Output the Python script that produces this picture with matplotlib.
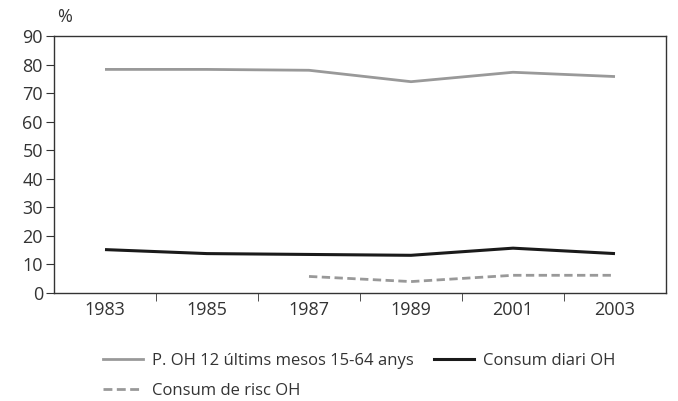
import matplotlib
matplotlib.use("Agg")
import matplotlib.pyplot as plt
import numpy as np
from matplotlib.lines import Line2D

plt.rcParams['font.family'] = ['Open Sans', 'DejaVu Sans']

years = ["1983", "1985", "1987", "1989", "2001", "2003"]
p_oh = [78.3, 78.3, 78.0, 74.0, 77.3, 75.8]
diari = [15.2, 13.8, 13.5, 13.2, 15.7, 13.8]
risc = [np.nan, np.nan, 5.8, 4.0, 6.2, 6.2]

txt = '#333333'
fs = 12
tfs = 13
fig = plt.figure(figsize=(6.78, 4.01), dpi=100)
ax = fig.add_axes([54/678, 1 - 293/401, 612/678, 257/401])
x = np.arange(len(years))
dash = (0, (3, 1.6))
ax.plot(x, p_oh, color='#999999', lw=2.0, solid_capstyle='butt')
ax.plot(x, diari, color='#1a1a1a', lw=2.2, solid_capstyle='butt')
ax.plot(x, risc, color='#999999', lw=2.0, ls=dash)

ax.set_xlim(-0.5, len(years) - 0.5)
ax.set_ylim(0, 90)
ax.set_yticks(range(0, 91, 10))
ax.set_xticks(x)
ax.set_xticklabels(years)
ax.set_xticks(np.arange(0.5, len(years) - 0.5, 1), minor=True)
ax.tick_params(axis='x', which='major', length=0, pad=6, labelsize=tfs, colors=txt)
ax.tick_params(axis='x', which='minor', length=6, direction='out', color='#333333')
ax.tick_params(axis='y', length=6, direction='out', labelsize=tfs, colors=txt, color='#333333', pad=2)
for s in ax.spines.values():
    s.set_color('#333333')
    s.set_linewidth(1.0)
ax.text(57/678, 1 - 17/401, '%', transform=fig.transFigure, fontsize=tfs, color=txt,
        ha='left', va='center')

handles = [Line2D([], [], color='#999999', lw=2.0),
           Line2D([], [], color='#1a1a1a', lw=2.2),
           Line2D([], [], color='#999999', lw=2.0, ls=(0, (3.2, 1.6)))]
labels = ["P. OH 12 últims mesos 15-64 anys", "Consum diari OH", "Consum de risc OH"]
common = dict(frameon=False, fontsize=fs, handlelength=2.4, handletextpad=0.55,
              labelcolor=txt, borderaxespad=0, borderpad=0)
leg = fig.legend(handles[:2], labels[:2], loc='center left', bbox_to_anchor=(103/678, 1 - 361/401),
                 ncol=2, columnspacing=1.2, **common)
leg2 = fig.legend(handles[2:], labels[2:], loc='center left', bbox_to_anchor=(103/678, 1 - 391/401),
                  **common)
fig.savefig('out.png', dpi=100)
